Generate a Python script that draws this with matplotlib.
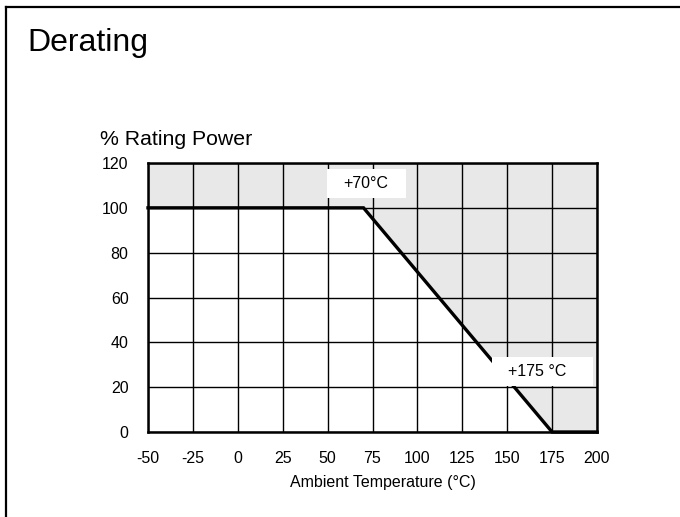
import matplotlib.pyplot as plt
from matplotlib.patches import Rectangle, Polygon

plt.rcParams['font.family'] = ['Liberation Sans', 'DejaVu Sans']
plt.rcParams['axes.unicode_minus'] = False

# derating curve: ambient temperature (°C) vs % rated power
temps = [-50, 70, 175, 200]
power = [100, 100, 0, 0]

x_ticks = [-50, -25, 0, 25, 50, 75, 100, 125, 150, 175, 200]
y_ticks = [0, 20, 40, 60, 80, 100, 120]

# annotation labels: text, text position, box (x0, y0, x1, y1)
notes = ['+70°C', '+175 °C']
note_pos = [(71.5, 111), (166.5, 27)]
note_box = [(49.5, 104.5, 93.5, 117.5), (141.5, 20.5, 197.5, 33.5)]

fig = plt.figure(figsize=(6.8, 5.17), dpi=100)
ax = fig.add_axes([148 / 680, 1 - 432 / 517, 449 / 680, 269 / 517])

ax.set_xlim(-50, 200)
ax.set_ylim(0, 120)

# grey region above the curve
poly = [(t, p) for t, p in zip(temps, power)] + [(200, 120), (-50, 120)]
ax.add_patch(Polygon(poly, closed=True, facecolor='#e8e8e8', edgecolor='none', zorder=0))

ax.set_xticks(x_ticks)
ax.set_yticks(y_ticks)
ax.grid(True, color='black', linewidth=1.0, zorder=1)
ax.set_axisbelow(True)
ax.tick_params(length=0, labelsize=11.5)
ax.tick_params(axis='y', pad=14)
ax.tick_params(axis='x', pad=14)

ax.plot(temps, power, color='black', linewidth=2.4, zorder=3, solid_joinstyle='miter', clip_on=False)

for txt, (tx, ty), (x0, y0, x1, y1) in zip(notes, note_pos, note_box):
    ax.add_patch(Rectangle((x0, y0), x1 - x0, y1 - y0, facecolor='white', edgecolor='none', zorder=4))
    ax.text(tx, ty, txt, ha='center', va='center', fontsize=11.5, zorder=5)

for s in ax.spines.values():
    s.set_linewidth(1.8)
    s.set_zorder(6)

fig.text(383 / 680, 1 - 482 / 517, 'Ambient Temperature (°C)', ha='center', va='center', fontsize=11.5)
fig.text(100 / 680, 1 - 145 / 517, '% Rating Power', ha='left', va='baseline', fontsize=15.3)
fig.text(27 / 680, 1 - 51 / 517, 'Derating', ha='left', va='baseline', fontsize=23)

# page frame (top and left only)
fig.add_artist(plt.Line2D([6 / 680, 1], [1 - 7 / 517, 1 - 7 / 517], color='black', linewidth=1.6))
fig.add_artist(plt.Line2D([6 / 680, 6 / 680], [0, 1 - 7 / 517], color='black', linewidth=1.6))

fig.savefig('out.png', dpi=100)
